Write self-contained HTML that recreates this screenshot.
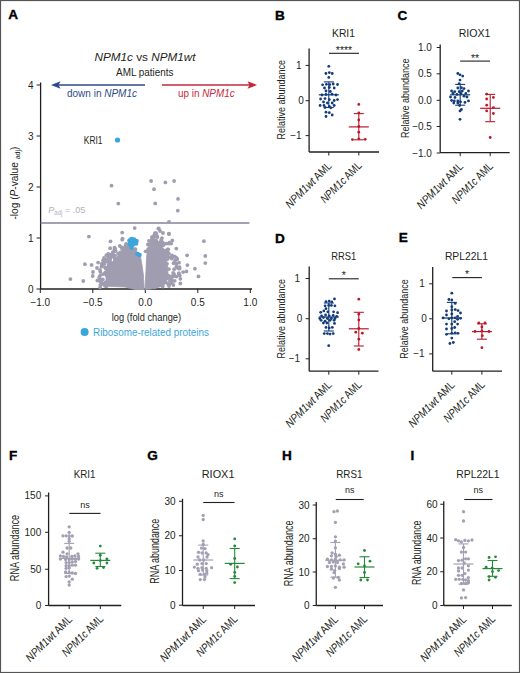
<!DOCTYPE html>
<html><head><meta charset="utf-8"><style>
html,body{margin:0;padding:0;background:#fff;}
svg{display:block;font-family:"Liberation Sans", sans-serif;}
</style></head><body>
<svg width="520" height="673" viewBox="0 0 520 673">
<rect width="520" height="673" fill="#fff"/>
<rect x="0.5" y="0.5" width="519" height="672" fill="none" stroke="#555" stroke-width="1.2"/>
<text x="8.200000000000001" y="18.8" font-size="13.6" text-anchor="start" font-weight="bold" font-style="normal" fill="#000" stroke="#000" stroke-width="0.35">A</text>
<text x="274.9" y="19.5" font-size="13.6" text-anchor="start" font-weight="bold" font-style="normal" fill="#000" stroke="#000" stroke-width="0.35">B</text>
<text x="397.4" y="19.5" font-size="13.6" text-anchor="start" font-weight="bold" font-style="normal" fill="#000" stroke="#000" stroke-width="0.35">C</text>
<text x="274.9" y="242.5" font-size="13.6" text-anchor="start" font-weight="bold" font-style="normal" fill="#000" stroke="#000" stroke-width="0.35">D</text>
<text x="398.7" y="242" font-size="13.6" text-anchor="start" font-weight="bold" font-style="normal" fill="#000" stroke="#000" stroke-width="0.35">E</text>
<text x="8.9" y="460.1" font-size="13.6" text-anchor="start" font-weight="bold" font-style="normal" fill="#000" stroke="#000" stroke-width="0.35">F</text>
<text x="147.20000000000002" y="460.1" font-size="13.6" text-anchor="start" font-weight="bold" font-style="normal" fill="#000" stroke="#000" stroke-width="0.35">G</text>
<text x="282.09999999999997" y="460.1" font-size="13.6" text-anchor="start" font-weight="bold" font-style="normal" fill="#000" stroke="#000" stroke-width="0.35">H</text>
<text x="410.4" y="460.1" font-size="13.6" text-anchor="start" font-weight="bold" font-style="normal" fill="#000" stroke="#000" stroke-width="0.35">I</text>
<line x1="40.6" y1="82.5" x2="40.6" y2="289" stroke="#231f20" stroke-width="1.3"/>
<line x1="36.6" y1="289.0" x2="40.6" y2="289.0" stroke="#231f20" stroke-width="1"/>
<text x="33.5" y="292.5" font-size="10" text-anchor="end" font-weight="normal" font-style="normal" fill="#231f20" >0</text>
<line x1="36.6" y1="238.0" x2="40.6" y2="238.0" stroke="#231f20" stroke-width="1"/>
<text x="33.5" y="241.5" font-size="10" text-anchor="end" font-weight="normal" font-style="normal" fill="#231f20" >1</text>
<line x1="36.6" y1="187.0" x2="40.6" y2="187.0" stroke="#231f20" stroke-width="1"/>
<text x="33.5" y="190.5" font-size="10" text-anchor="end" font-weight="normal" font-style="normal" fill="#231f20" >2</text>
<line x1="36.6" y1="136.0" x2="40.6" y2="136.0" stroke="#231f20" stroke-width="1"/>
<text x="33.5" y="139.5" font-size="10" text-anchor="end" font-weight="normal" font-style="normal" fill="#231f20" >3</text>
<line x1="36.6" y1="85.0" x2="40.6" y2="85.0" stroke="#231f20" stroke-width="1"/>
<text x="33.5" y="88.5" font-size="10" text-anchor="end" font-weight="normal" font-style="normal" fill="#231f20" >4</text>
<line x1="40.6" y1="289" x2="252" y2="289" stroke="#231f20" stroke-width="1.3"/>
<line x1="40.30000000000001" y1="289" x2="40.30000000000001" y2="293" stroke="#231f20" stroke-width="1"/>
<text x="40.30000000000001" y="305.5" font-size="10" text-anchor="middle" font-weight="normal" font-style="normal" fill="#231f20" >−1.0</text>
<line x1="92.80000000000001" y1="289" x2="92.80000000000001" y2="293" stroke="#231f20" stroke-width="1"/>
<text x="92.80000000000001" y="305.5" font-size="10" text-anchor="middle" font-weight="normal" font-style="normal" fill="#231f20" >−0.5</text>
<line x1="145.3" y1="289" x2="145.3" y2="293" stroke="#231f20" stroke-width="1"/>
<text x="145.3" y="305.5" font-size="10" text-anchor="middle" font-weight="normal" font-style="normal" fill="#231f20" >0.0</text>
<line x1="197.8" y1="289" x2="197.8" y2="293" stroke="#231f20" stroke-width="1"/>
<text x="197.8" y="305.5" font-size="10" text-anchor="middle" font-weight="normal" font-style="normal" fill="#231f20" >0.5</text>
<line x1="250.3" y1="289" x2="250.3" y2="293" stroke="#231f20" stroke-width="1"/>
<text x="250.3" y="305.5" font-size="10" text-anchor="middle" font-weight="normal" font-style="normal" fill="#231f20" >1.0</text>
<text x="146.4" y="320.5" font-size="10.5" text-anchor="middle" font-weight="normal" font-style="normal" fill="#231f20" textLength="69.5" lengthAdjust="spacingAndGlyphs" >log (fold change)</text>
<circle cx="84.6" cy="332.0" r="4" fill="#3aa6dc"/>
<text x="93" y="336" font-size="10.5" text-anchor="start" font-weight="normal" font-style="normal" fill="#3aa6dc" textLength="116" lengthAdjust="spacingAndGlyphs" >Ribosome-related proteins</text>
<g transform="translate(17.9,183) rotate(-90)"><text x="0" y="0" font-size="10" text-anchor="middle" fill="#231f20" textLength="73" lengthAdjust="spacingAndGlyphs">-log (<tspan font-style="italic">P</tspan>-value <tspan font-size="7" dy="2">adj</tspan><tspan dy="-2">)</tspan></text></g>
<text x="145" y="60.7" font-size="11.3" text-anchor="middle" fill="#231f20" textLength="101" lengthAdjust="spacingAndGlyphs"><tspan font-style="italic">NPM1c</tspan> vs <tspan font-style="italic">NPM1wt</tspan></text>
<text x="144.8" y="76.2" font-size="10" text-anchor="middle" font-weight="normal" font-style="normal" fill="#231f20" textLength="57.5" lengthAdjust="spacingAndGlyphs" >AML patients</text>
<line x1="57" y1="85" x2="145" y2="85" stroke="#2d4b87" stroke-width="1.5"/>
<path d="M51,85 L60.5,81.2 L58.5,85 L60.5,88.8 Z" fill="#2d4b87"/>
<line x1="162" y1="85" x2="251" y2="85" stroke="#c4283a" stroke-width="1.5"/>
<path d="M257,85 L247.5,81.2 L249.5,85 L247.5,88.8 Z" fill="#c4283a"/>
<text x="67" y="97.2" font-size="10" fill="#2d4b87" textLength="70" lengthAdjust="spacingAndGlyphs">down in <tspan font-style="italic">NPM1c</tspan></text>
<text x="178" y="97.2" font-size="10" fill="#c4283a" textLength="56.6" lengthAdjust="spacingAndGlyphs">up in <tspan font-style="italic">NPM1c</tspan></text>
<line x1="40.6" y1="223" x2="249.5" y2="223" stroke="#85839a" stroke-width="1.4"/>
<text x="48.3" y="213.3" font-size="9.8" fill="#b3b2bd" textLength="37" lengthAdjust="spacingAndGlyphs"><tspan font-style="italic">P</tspan><tspan font-size="6.5" dy="2">adj</tspan><tspan dy="-2"> = .05</tspan></text>
<path d="M106.0,286.0 L106.0,279.0 L107.0,272.0 L109.0,266.0 L112.5,261.5 L117.0,257.0 L121.0,252.0 L125.0,248.0 L128.0,245.0 L133.0,248.0 L137.0,252.0 L140.0,254.0 L142.0,265.0 L143.4,275.0 L144.2,289.5 L135.0,289.5 L125.0,287.0 L112.0,286.5 Z" fill="#a09db0" stroke="#a09db0" stroke-width="0.8" stroke-linejoin="round"/>
<path d="M145.0,289.5 L145.4,281.0 L146.0,270.0 L146.5,258.0 L147.5,249.0 L149.0,243.0 L152.0,240.5 L156.0,241.5 L160.0,245.0 L163.0,250.0 L166.0,257.0 L167.5,265.0 L168.0,273.0 L167.0,280.0 L164.0,285.5 L155.0,288.5 Z" fill="#a09db0" stroke="#a09db0" stroke-width="0.8" stroke-linejoin="round"/>
<circle cx="120.5" cy="252.5" r="1.9" fill="#a09db0"/>
<circle cx="126.2" cy="244.0" r="1.9" fill="#a09db0"/>
<circle cx="108.7" cy="266.0" r="1.9" fill="#a09db0"/>
<circle cx="108.0" cy="275.7" r="1.9" fill="#a09db0"/>
<circle cx="110.8" cy="262.9" r="1.9" fill="#a09db0"/>
<circle cx="135.0" cy="249.5" r="1.9" fill="#a09db0"/>
<circle cx="107.9" cy="270.7" r="1.9" fill="#a09db0"/>
<circle cx="114.8" cy="258.5" r="1.9" fill="#a09db0"/>
<circle cx="134.5" cy="251.6" r="1.9" fill="#a09db0"/>
<circle cx="105.5" cy="274.1" r="1.9" fill="#a09db0"/>
<circle cx="129.5" cy="247.7" r="1.9" fill="#a09db0"/>
<circle cx="126.1" cy="247.7" r="1.9" fill="#a09db0"/>
<circle cx="108.9" cy="267.0" r="1.9" fill="#a09db0"/>
<circle cx="119.1" cy="256.6" r="1.9" fill="#a09db0"/>
<circle cx="107.1" cy="276.4" r="1.9" fill="#a09db0"/>
<circle cx="126.7" cy="246.6" r="1.9" fill="#a09db0"/>
<circle cx="131.6" cy="246.0" r="1.9" fill="#a09db0"/>
<circle cx="118.2" cy="253.4" r="1.9" fill="#a09db0"/>
<circle cx="105.2" cy="272.7" r="1.9" fill="#a09db0"/>
<circle cx="105.4" cy="282.3" r="1.9" fill="#a09db0"/>
<circle cx="111.3" cy="281.1" r="1.9" fill="#a09db0"/>
<circle cx="127.3" cy="263.4" r="1.9" fill="#a09db0"/>
<circle cx="135.4" cy="249.2" r="1.9" fill="#a09db0"/>
<circle cx="106.3" cy="269.2" r="1.9" fill="#a09db0"/>
<circle cx="123.8" cy="248.2" r="1.9" fill="#a09db0"/>
<circle cx="155.9" cy="240.6" r="1.9" fill="#a09db0"/>
<circle cx="167.0" cy="263.8" r="1.9" fill="#a09db0"/>
<circle cx="157.0" cy="242.8" r="1.9" fill="#a09db0"/>
<circle cx="156.4" cy="240.9" r="1.9" fill="#a09db0"/>
<circle cx="159.0" cy="245.6" r="1.9" fill="#a09db0"/>
<circle cx="162.5" cy="271.8" r="1.9" fill="#a09db0"/>
<circle cx="154.1" cy="258.4" r="1.9" fill="#a09db0"/>
<circle cx="167.2" cy="276.1" r="1.9" fill="#a09db0"/>
<circle cx="166.8" cy="257.8" r="1.9" fill="#a09db0"/>
<circle cx="152.0" cy="240.3" r="1.9" fill="#a09db0"/>
<circle cx="165.0" cy="276.0" r="1.9" fill="#a09db0"/>
<circle cx="147.9" cy="249.7" r="1.9" fill="#a09db0"/>
<circle cx="161.8" cy="249.0" r="1.9" fill="#a09db0"/>
<circle cx="152.9" cy="240.8" r="1.9" fill="#a09db0"/>
<circle cx="168.9" cy="269.1" r="1.9" fill="#a09db0"/>
<circle cx="160.9" cy="246.0" r="1.9" fill="#a09db0"/>
<circle cx="159.1" cy="244.7" r="1.9" fill="#a09db0"/>
<circle cx="167.1" cy="278.4" r="1.9" fill="#a09db0"/>
<circle cx="151.0" cy="242.4" r="1.9" fill="#a09db0"/>
<circle cx="153.7" cy="242.3" r="1.9" fill="#a09db0"/>
<circle cx="168.0" cy="277.5" r="1.9" fill="#a09db0"/>
<circle cx="160.0" cy="242.5" r="1.9" fill="#a09db0"/>
<circle cx="154.9" cy="242.3" r="1.9" fill="#a09db0"/>
<circle cx="147.9" cy="244.4" r="1.9" fill="#a09db0"/>
<circle cx="145.7" cy="251.3" r="1.9" fill="#a09db0"/>
<circle cx="165.3" cy="257.3" r="1.9" fill="#a09db0"/>
<circle cx="157.2" cy="244.3" r="1.9" fill="#a09db0"/>
<circle cx="148.9" cy="254.2" r="1.9" fill="#a09db0"/>
<circle cx="152.4" cy="241.7" r="1.9" fill="#a09db0"/>
<circle cx="158.8" cy="245.1" r="1.9" fill="#a09db0"/>
<circle cx="121.9" cy="247.3" r="1.9" fill="#a09db0"/>
<circle cx="102.8" cy="279.5" r="1.9" fill="#a09db0"/>
<circle cx="105.9" cy="267.7" r="1.9" fill="#a09db0"/>
<circle cx="106.6" cy="259.5" r="1.9" fill="#a09db0"/>
<circle cx="102.3" cy="283.6" r="1.9" fill="#a09db0"/>
<circle cx="109.7" cy="261.4" r="1.9" fill="#a09db0"/>
<circle cx="103.7" cy="262.2" r="1.9" fill="#a09db0"/>
<circle cx="108.8" cy="264.4" r="1.9" fill="#a09db0"/>
<circle cx="101.5" cy="266.5" r="1.9" fill="#a09db0"/>
<circle cx="125.7" cy="245.7" r="1.9" fill="#a09db0"/>
<circle cx="100.4" cy="271.8" r="1.9" fill="#a09db0"/>
<circle cx="103.1" cy="274.1" r="1.9" fill="#a09db0"/>
<circle cx="119.8" cy="246.0" r="1.9" fill="#a09db0"/>
<circle cx="105.2" cy="285.7" r="1.9" fill="#a09db0"/>
<circle cx="111.1" cy="262.9" r="1.9" fill="#a09db0"/>
<circle cx="103.3" cy="260.1" r="1.9" fill="#a09db0"/>
<circle cx="115.0" cy="255.6" r="1.9" fill="#a09db0"/>
<circle cx="100.1" cy="287.3" r="1.9" fill="#a09db0"/>
<circle cx="99.3" cy="277.2" r="1.9" fill="#a09db0"/>
<circle cx="102.9" cy="284.0" r="1.9" fill="#a09db0"/>
<circle cx="100.4" cy="285.0" r="1.9" fill="#a09db0"/>
<circle cx="100.8" cy="281.0" r="1.9" fill="#a09db0"/>
<circle cx="100.2" cy="281.3" r="1.9" fill="#a09db0"/>
<circle cx="113.0" cy="255.6" r="1.9" fill="#a09db0"/>
<circle cx="115.4" cy="250.7" r="1.9" fill="#a09db0"/>
<circle cx="108.3" cy="253.9" r="1.9" fill="#a09db0"/>
<circle cx="114.5" cy="247.7" r="1.9" fill="#a09db0"/>
<circle cx="104.3" cy="262.3" r="1.9" fill="#a09db0"/>
<circle cx="128.8" cy="244.2" r="1.9" fill="#a09db0"/>
<circle cx="111.4" cy="256.0" r="1.9" fill="#a09db0"/>
<circle cx="100.3" cy="275.3" r="1.9" fill="#a09db0"/>
<circle cx="100.8" cy="280.2" r="1.9" fill="#a09db0"/>
<circle cx="107.7" cy="261.5" r="1.9" fill="#a09db0"/>
<circle cx="103.2" cy="260.8" r="1.9" fill="#a09db0"/>
<circle cx="106.7" cy="286.1" r="1.9" fill="#a09db0"/>
<circle cx="106.1" cy="286.3" r="1.9" fill="#a09db0"/>
<circle cx="108.2" cy="256.5" r="1.9" fill="#a09db0"/>
<circle cx="104.6" cy="263.7" r="1.9" fill="#a09db0"/>
<circle cx="110.9" cy="255.0" r="1.9" fill="#a09db0"/>
<circle cx="99.4" cy="279.9" r="1.9" fill="#a09db0"/>
<circle cx="102.6" cy="264.7" r="1.9" fill="#a09db0"/>
<circle cx="101.5" cy="280.0" r="1.9" fill="#a09db0"/>
<circle cx="122.1" cy="249.1" r="1.9" fill="#a09db0"/>
<circle cx="114.3" cy="257.7" r="1.9" fill="#a09db0"/>
<circle cx="112.8" cy="252.2" r="1.9" fill="#a09db0"/>
<circle cx="104.9" cy="285.3" r="1.9" fill="#a09db0"/>
<circle cx="105.0" cy="267.5" r="1.9" fill="#a09db0"/>
<circle cx="102.7" cy="264.7" r="1.9" fill="#a09db0"/>
<circle cx="129.4" cy="245.5" r="1.9" fill="#a09db0"/>
<circle cx="105.6" cy="283.0" r="1.9" fill="#a09db0"/>
<circle cx="112.9" cy="253.8" r="1.9" fill="#a09db0"/>
<circle cx="125.7" cy="244.9" r="1.9" fill="#a09db0"/>
<circle cx="110.3" cy="258.3" r="1.9" fill="#a09db0"/>
<circle cx="109.9" cy="260.0" r="1.9" fill="#a09db0"/>
<circle cx="101.4" cy="279.9" r="1.9" fill="#a09db0"/>
<circle cx="114.9" cy="248.3" r="1.9" fill="#a09db0"/>
<circle cx="128.6" cy="245.2" r="1.9" fill="#a09db0"/>
<circle cx="113.6" cy="255.8" r="1.9" fill="#a09db0"/>
<circle cx="104.9" cy="283.4" r="1.9" fill="#a09db0"/>
<circle cx="114.4" cy="249.8" r="1.9" fill="#a09db0"/>
<circle cx="161.2" cy="240.0" r="1.9" fill="#a09db0"/>
<circle cx="151.9" cy="237.2" r="1.9" fill="#a09db0"/>
<circle cx="157.3" cy="237.2" r="1.9" fill="#a09db0"/>
<circle cx="172.0" cy="255.5" r="1.9" fill="#a09db0"/>
<circle cx="177.2" cy="259.0" r="1.9" fill="#a09db0"/>
<circle cx="174.7" cy="280.8" r="1.9" fill="#a09db0"/>
<circle cx="148.9" cy="240.8" r="1.9" fill="#a09db0"/>
<circle cx="178.9" cy="273.1" r="1.9" fill="#a09db0"/>
<circle cx="168.3" cy="275.6" r="1.9" fill="#a09db0"/>
<circle cx="168.2" cy="249.3" r="1.9" fill="#a09db0"/>
<circle cx="179.5" cy="268.7" r="1.9" fill="#a09db0"/>
<circle cx="176.8" cy="259.1" r="1.9" fill="#a09db0"/>
<circle cx="156.1" cy="233.2" r="1.9" fill="#a09db0"/>
<circle cx="169.0" cy="284.7" r="1.9" fill="#a09db0"/>
<circle cx="169.6" cy="243.3" r="1.9" fill="#a09db0"/>
<circle cx="173.7" cy="274.1" r="1.9" fill="#a09db0"/>
<circle cx="163.2" cy="243.7" r="1.9" fill="#a09db0"/>
<circle cx="162.8" cy="242.7" r="1.9" fill="#a09db0"/>
<circle cx="169.0" cy="286.1" r="1.9" fill="#a09db0"/>
<circle cx="168.9" cy="253.6" r="1.9" fill="#a09db0"/>
<circle cx="174.6" cy="256.6" r="1.9" fill="#a09db0"/>
<circle cx="171.9" cy="283.2" r="1.9" fill="#a09db0"/>
<circle cx="179.5" cy="267.2" r="1.9" fill="#a09db0"/>
<circle cx="178.0" cy="268.1" r="1.9" fill="#a09db0"/>
<circle cx="173.9" cy="274.1" r="1.9" fill="#a09db0"/>
<circle cx="174.6" cy="276.1" r="1.9" fill="#a09db0"/>
<circle cx="166.9" cy="250.7" r="1.9" fill="#a09db0"/>
<circle cx="153.9" cy="235.7" r="1.9" fill="#a09db0"/>
<circle cx="154.5" cy="236.8" r="1.9" fill="#a09db0"/>
<circle cx="170.6" cy="257.5" r="1.9" fill="#a09db0"/>
<circle cx="171.9" cy="280.3" r="1.9" fill="#a09db0"/>
<circle cx="165.4" cy="253.3" r="1.9" fill="#a09db0"/>
<circle cx="165.8" cy="250.6" r="1.9" fill="#a09db0"/>
<circle cx="163.3" cy="245.2" r="1.9" fill="#a09db0"/>
<circle cx="174.1" cy="269.2" r="1.9" fill="#a09db0"/>
<circle cx="176.2" cy="257.6" r="1.9" fill="#a09db0"/>
<circle cx="168.5" cy="243.6" r="1.9" fill="#a09db0"/>
<circle cx="169.4" cy="242.6" r="1.9" fill="#a09db0"/>
<circle cx="173.6" cy="263.2" r="1.9" fill="#a09db0"/>
<circle cx="158.1" cy="243.2" r="1.9" fill="#a09db0"/>
<circle cx="171.2" cy="243.6" r="1.9" fill="#a09db0"/>
<circle cx="161.6" cy="241.3" r="1.9" fill="#a09db0"/>
<circle cx="168.1" cy="283.9" r="1.9" fill="#a09db0"/>
<circle cx="152.1" cy="239.2" r="1.9" fill="#a09db0"/>
<circle cx="177.6" cy="267.4" r="1.9" fill="#a09db0"/>
<circle cx="171.1" cy="283.1" r="1.9" fill="#a09db0"/>
<circle cx="167.6" cy="249.5" r="1.9" fill="#a09db0"/>
<circle cx="162.6" cy="245.4" r="1.9" fill="#a09db0"/>
<circle cx="172.5" cy="276.5" r="1.9" fill="#a09db0"/>
<circle cx="161.5" cy="242.2" r="1.9" fill="#a09db0"/>
<circle cx="162.0" cy="238.1" r="1.9" fill="#a09db0"/>
<circle cx="171.4" cy="276.3" r="1.9" fill="#a09db0"/>
<circle cx="171.4" cy="278.5" r="1.9" fill="#a09db0"/>
<circle cx="162.7" cy="286.5" r="1.9" fill="#a09db0"/>
<circle cx="173.4" cy="285.0" r="1.9" fill="#a09db0"/>
<circle cx="163.2" cy="250.2" r="1.9" fill="#a09db0"/>
<circle cx="169.5" cy="283.0" r="1.9" fill="#a09db0"/>
<circle cx="167.9" cy="252.5" r="1.9" fill="#a09db0"/>
<circle cx="176.4" cy="263.6" r="1.9" fill="#a09db0"/>
<circle cx="165.9" cy="282.3" r="1.9" fill="#a09db0"/>
<circle cx="167.7" cy="254.5" r="1.9" fill="#a09db0"/>
<circle cx="160.9" cy="242.1" r="1.9" fill="#a09db0"/>
<circle cx="167.2" cy="256.6" r="1.9" fill="#a09db0"/>
<circle cx="166.2" cy="243.6" r="1.9" fill="#a09db0"/>
<circle cx="167.5" cy="259.1" r="1.9" fill="#a09db0"/>
<circle cx="153.8" cy="240.5" r="1.9" fill="#a09db0"/>
<circle cx="176.4" cy="276.6" r="1.9" fill="#a09db0"/>
<circle cx="165.2" cy="252.0" r="1.9" fill="#a09db0"/>
<circle cx="168.2" cy="257.3" r="1.9" fill="#a09db0"/>
<circle cx="178.7" cy="273.8" r="1.9" fill="#a09db0"/>
<circle cx="173.2" cy="272.8" r="1.9" fill="#a09db0"/>
<circle cx="171.8" cy="258.5" r="1.9" fill="#a09db0"/>
<circle cx="171.7" cy="257.8" r="1.9" fill="#a09db0"/>
<circle cx="153.1" cy="238.0" r="1.9" fill="#a09db0"/>
<circle cx="170.0" cy="280.2" r="1.9" fill="#a09db0"/>
<circle cx="111.5" cy="185.7" r="1.9" fill="#a09db0"/>
<circle cx="118.3" cy="203.6" r="1.9" fill="#a09db0"/>
<circle cx="88.9" cy="236.6" r="1.9" fill="#a09db0"/>
<circle cx="122.2" cy="232.6" r="1.9" fill="#a09db0"/>
<circle cx="122.6" cy="238.6" r="1.9" fill="#a09db0"/>
<circle cx="151.1" cy="181.0" r="1.9" fill="#a09db0"/>
<circle cx="165.4" cy="182.4" r="1.9" fill="#a09db0"/>
<circle cx="174.1" cy="181.0" r="1.9" fill="#a09db0"/>
<circle cx="154.0" cy="189.2" r="1.9" fill="#a09db0"/>
<circle cx="178.0" cy="198.9" r="1.9" fill="#a09db0"/>
<circle cx="155.2" cy="203.4" r="1.9" fill="#a09db0"/>
<circle cx="177.8" cy="210.7" r="1.9" fill="#a09db0"/>
<circle cx="169.0" cy="221.8" r="1.9" fill="#a09db0"/>
<circle cx="134.7" cy="228.1" r="1.9" fill="#a09db0"/>
<circle cx="158.3" cy="228.7" r="1.9" fill="#a09db0"/>
<circle cx="169.0" cy="234.0" r="1.9" fill="#a09db0"/>
<circle cx="154.9" cy="233.2" r="1.9" fill="#a09db0"/>
<circle cx="70.4" cy="279.1" r="1.9" fill="#a09db0"/>
<circle cx="83.3" cy="281.0" r="1.9" fill="#a09db0"/>
<circle cx="84.9" cy="264.2" r="1.9" fill="#a09db0"/>
<circle cx="91.6" cy="264.9" r="1.9" fill="#a09db0"/>
<circle cx="93.0" cy="272.0" r="1.9" fill="#a09db0"/>
<circle cx="92.7" cy="276.0" r="1.9" fill="#a09db0"/>
<circle cx="97.4" cy="280.5" r="1.9" fill="#a09db0"/>
<circle cx="106.4" cy="284.5" r="1.9" fill="#a09db0"/>
<circle cx="98.1" cy="262.6" r="1.9" fill="#a09db0"/>
<circle cx="101.7" cy="263.9" r="1.9" fill="#a09db0"/>
<circle cx="106.4" cy="255.2" r="1.9" fill="#a09db0"/>
<circle cx="110.5" cy="241.3" r="1.9" fill="#a09db0"/>
<circle cx="110.2" cy="248.2" r="1.9" fill="#a09db0"/>
<circle cx="115.5" cy="250.9" r="1.9" fill="#a09db0"/>
<circle cx="122.2" cy="239.7" r="1.9" fill="#a09db0"/>
<circle cx="111.1" cy="255.2" r="1.9" fill="#a09db0"/>
<circle cx="158.8" cy="228.4" r="1.9" fill="#a09db0"/>
<circle cx="168.9" cy="233.7" r="1.9" fill="#a09db0"/>
<circle cx="172.3" cy="240.5" r="1.9" fill="#a09db0"/>
<circle cx="176.3" cy="248.6" r="1.9" fill="#a09db0"/>
<circle cx="175.0" cy="260.7" r="1.9" fill="#a09db0"/>
<circle cx="179.0" cy="262.7" r="1.9" fill="#a09db0"/>
<circle cx="176.3" cy="266.7" r="1.9" fill="#a09db0"/>
<circle cx="187.1" cy="255.3" r="1.9" fill="#a09db0"/>
<circle cx="203.9" cy="241.2" r="1.9" fill="#a09db0"/>
<circle cx="205.3" cy="256.0" r="1.9" fill="#a09db0"/>
<circle cx="205.3" cy="263.1" r="1.9" fill="#a09db0"/>
<circle cx="187.4" cy="265.1" r="1.9" fill="#a09db0"/>
<circle cx="194.9" cy="268.7" r="1.9" fill="#a09db0"/>
<circle cx="198.5" cy="276.4" r="1.9" fill="#a09db0"/>
<circle cx="180.4" cy="283.5" r="1.9" fill="#a09db0"/>
<circle cx="180.4" cy="278.8" r="1.9" fill="#a09db0"/>
<circle cx="186.4" cy="271.4" r="1.9" fill="#a09db0"/>
<circle cx="183.1" cy="272.1" r="1.9" fill="#a09db0"/>
<circle cx="179.7" cy="275.5" r="1.9" fill="#a09db0"/>
<circle cx="100.0" cy="270.0" r="1.9" fill="#a09db0"/>
<circle cx="97.0" cy="268.0" r="1.9" fill="#a09db0"/>
<circle cx="104.0" cy="258.0" r="1.9" fill="#a09db0"/>
<circle cx="160.0" cy="231.0" r="1.9" fill="#a09db0"/>
<circle cx="163.0" cy="233.0" r="1.9" fill="#a09db0"/>
<circle cx="157.0" cy="236.0" r="1.9" fill="#a09db0"/>
<circle cx="129.5" cy="240.5" r="2.3" fill="#3aa6dc"/>
<circle cx="131.5" cy="239.0" r="2.3" fill="#3aa6dc"/>
<circle cx="134.0" cy="239.5" r="2.3" fill="#3aa6dc"/>
<circle cx="136.5" cy="241.0" r="2.3" fill="#3aa6dc"/>
<circle cx="136.0" cy="243.5" r="2.3" fill="#3aa6dc"/>
<circle cx="133.0" cy="244.5" r="2.3" fill="#3aa6dc"/>
<circle cx="130.0" cy="244.0" r="2.3" fill="#3aa6dc"/>
<circle cx="131.5" cy="247.5" r="2.3" fill="#3aa6dc"/>
<circle cx="137.5" cy="254.0" r="2.3" fill="#3aa6dc"/>
<circle cx="139.5" cy="255.0" r="2.3" fill="#3aa6dc"/>
<circle cx="133.0" cy="242.0" r="2.3" fill="#3aa6dc"/>
<circle cx="131.0" cy="242.0" r="2.3" fill="#3aa6dc"/>
<circle cx="134.5" cy="241.5" r="2.3" fill="#3aa6dc"/>
<circle cx="117.5" cy="140.0" r="2.6" fill="#3aa6dc"/>
<text x="83.8" y="144" font-size="10" text-anchor="start" font-weight="normal" font-style="normal" fill="#231f20" textLength="18.7" lengthAdjust="spacingAndGlyphs" >KRI1</text>
<line x1="309.1" y1="48.5" x2="309.1" y2="152" stroke="#231f20" stroke-width="1.3"/>
<line x1="309.1" y1="152" x2="379" y2="152" stroke="#231f20" stroke-width="1.3"/>
<line x1="305.6" y1="65.4" x2="309.1" y2="65.4" stroke="#231f20" stroke-width="1"/>
<line x1="305.6" y1="100.7" x2="309.1" y2="100.7" stroke="#231f20" stroke-width="1"/>
<line x1="305.6" y1="135.6" x2="309.1" y2="135.6" stroke="#231f20" stroke-width="1"/>
<line x1="328.8" y1="152" x2="328.8" y2="155.5" stroke="#231f20" stroke-width="1"/>
<line x1="358.8" y1="152" x2="358.8" y2="155.5" stroke="#231f20" stroke-width="1"/>
<text x="301.6" y="68.9" font-size="10" text-anchor="end" font-weight="normal" font-style="normal" fill="#231f20" >1</text>
<text x="303.8" y="104.2" font-size="10" text-anchor="end" font-weight="normal" font-style="normal" fill="#231f20" >0</text>
<text x="301.6" y="139.1" font-size="10" text-anchor="end" font-weight="normal" font-style="normal" fill="#231f20" >−1</text>
<text x="343.5" y="37.2" font-size="11.5" text-anchor="middle" font-weight="normal" font-style="normal" fill="#231f20" textLength="23" lengthAdjust="spacingAndGlyphs" >KRI1</text>
<g transform="translate(285.2,99.7) rotate(-90)"><text x="0" y="0" font-size="11" text-anchor="middle" fill="#231f20" textLength="79.4" lengthAdjust="spacingAndGlyphs">Relative abundance</text></g>
<line x1="329" y1="53.3" x2="359" y2="53.3" stroke="#231f20" stroke-width="1.1"/>
<text x="344.0" y="54.1" font-size="10.5" text-anchor="middle" font-weight="normal" font-style="normal" fill="#231f20" textLength="16.4" lengthAdjust="spacingAndGlyphs" >****</text>
<circle cx="328.8" cy="66.3" r="1.4" fill="#133c7a"/>
<circle cx="325.9" cy="73.5" r="1.4" fill="#133c7a"/>
<circle cx="329.3" cy="72.6" r="1.4" fill="#133c7a"/>
<circle cx="332.2" cy="73.5" r="1.4" fill="#133c7a"/>
<circle cx="328.8" cy="77.4" r="1.4" fill="#133c7a"/>
<circle cx="322.6" cy="84.8" r="1.4" fill="#133c7a"/>
<circle cx="326.4" cy="84.3" r="1.4" fill="#133c7a"/>
<circle cx="329.8" cy="84.6" r="1.4" fill="#133c7a"/>
<circle cx="333.2" cy="84.0" r="1.4" fill="#133c7a"/>
<circle cx="337.5" cy="84.5" r="1.4" fill="#133c7a"/>
<circle cx="324.5" cy="88.0" r="1.4" fill="#133c7a"/>
<circle cx="329.3" cy="87.5" r="1.4" fill="#133c7a"/>
<circle cx="334.2" cy="88.0" r="1.4" fill="#133c7a"/>
<circle cx="326.0" cy="91.0" r="1.4" fill="#133c7a"/>
<circle cx="330.3" cy="91.5" r="1.4" fill="#133c7a"/>
<circle cx="320.6" cy="99.0" r="1.4" fill="#133c7a"/>
<circle cx="325.0" cy="98.6" r="1.4" fill="#133c7a"/>
<circle cx="329.3" cy="99.6" r="1.4" fill="#133c7a"/>
<circle cx="334.2" cy="100.5" r="1.4" fill="#133c7a"/>
<circle cx="337.5" cy="99.6" r="1.4" fill="#133c7a"/>
<circle cx="323.5" cy="102.0" r="1.4" fill="#133c7a"/>
<circle cx="327.4" cy="103.0" r="1.4" fill="#133c7a"/>
<circle cx="332.2" cy="103.0" r="1.4" fill="#133c7a"/>
<circle cx="320.1" cy="105.5" r="1.4" fill="#133c7a"/>
<circle cx="324.0" cy="105.5" r="1.4" fill="#133c7a"/>
<circle cx="329.3" cy="106.4" r="1.4" fill="#133c7a"/>
<circle cx="334.2" cy="105.5" r="1.4" fill="#133c7a"/>
<circle cx="325.0" cy="107.5" r="1.4" fill="#133c7a"/>
<circle cx="330.8" cy="107.8" r="1.4" fill="#133c7a"/>
<circle cx="326.0" cy="112.2" r="1.4" fill="#133c7a"/>
<circle cx="329.3" cy="112.7" r="1.4" fill="#133c7a"/>
<circle cx="332.2" cy="115.0" r="1.4" fill="#133c7a"/>
<circle cx="326.0" cy="116.5" r="1.4" fill="#133c7a"/>
<circle cx="322.0" cy="95.0" r="1.4" fill="#133c7a"/>
<circle cx="336.0" cy="95.0" r="1.4" fill="#133c7a"/>
<circle cx="326.0" cy="94.5" r="1.4" fill="#133c7a"/>
<circle cx="332.0" cy="94.2" r="1.4" fill="#133c7a"/>
<circle cx="358.8" cy="104.4" r="1.4" fill="#ba1a2c"/>
<circle cx="358.8" cy="113.0" r="1.4" fill="#ba1a2c"/>
<circle cx="358.8" cy="120.0" r="1.4" fill="#ba1a2c"/>
<circle cx="358.8" cy="126.5" r="1.4" fill="#ba1a2c"/>
<circle cx="358.8" cy="132.2" r="1.4" fill="#ba1a2c"/>
<circle cx="352.4" cy="139.6" r="1.4" fill="#ba1a2c"/>
<circle cx="358.8" cy="138.8" r="1.4" fill="#ba1a2c"/>
<circle cx="365.2" cy="139.3" r="1.4" fill="#ba1a2c"/>
<line x1="318.8" y1="94.8" x2="338.8" y2="94.8" stroke="#133c7a" stroke-width="1.2"/>
<line x1="328.8" y1="81.9" x2="328.8" y2="107.5" stroke="#133c7a" stroke-width="1.1"/>
<line x1="323.8" y1="81.9" x2="333.8" y2="81.9" stroke="#133c7a" stroke-width="1.1"/>
<line x1="323.8" y1="107.5" x2="333.8" y2="107.5" stroke="#133c7a" stroke-width="1.1"/>
<line x1="348.8" y1="126.9" x2="368.8" y2="126.9" stroke="#ba1a2c" stroke-width="1.2"/>
<line x1="358.8" y1="113.6" x2="358.8" y2="139.8" stroke="#ba1a2c" stroke-width="1.1"/>
<line x1="353.8" y1="113.6" x2="363.8" y2="113.6" stroke="#ba1a2c" stroke-width="1.1"/>
<line x1="353.8" y1="139.8" x2="363.8" y2="139.8" stroke="#ba1a2c" stroke-width="1.1"/>
<g transform="translate(332.40000000000003,166.5) rotate(-45)"><text x="0" y="0" font-size="11.5" text-anchor="end" fill="#231f20" textLength="60" lengthAdjust="spacingAndGlyphs"><tspan font-style="italic">NPM1wt</tspan> AML</text></g>
<g transform="translate(362.40000000000003,166.3) rotate(-45)"><text x="0" y="0" font-size="11.5" text-anchor="end" fill="#231f20" textLength="53" lengthAdjust="spacingAndGlyphs"><tspan font-style="italic">NPM1c</tspan> AML</text></g>
<line x1="440.2" y1="44.4" x2="440.2" y2="152.7" stroke="#231f20" stroke-width="1.3"/>
<line x1="440.2" y1="152.7" x2="509.7" y2="152.7" stroke="#231f20" stroke-width="1.3"/>
<line x1="436.7" y1="47.5" x2="440.2" y2="47.5" stroke="#231f20" stroke-width="1"/>
<line x1="436.7" y1="73.8" x2="440.2" y2="73.8" stroke="#231f20" stroke-width="1"/>
<line x1="436.7" y1="100.3" x2="440.2" y2="100.3" stroke="#231f20" stroke-width="1"/>
<line x1="436.7" y1="126.5" x2="440.2" y2="126.5" stroke="#231f20" stroke-width="1"/>
<line x1="436.7" y1="153" x2="440.2" y2="153" stroke="#231f20" stroke-width="1"/>
<line x1="460.2" y1="152.7" x2="460.2" y2="156.2" stroke="#231f20" stroke-width="1"/>
<line x1="490.2" y1="152.7" x2="490.2" y2="156.2" stroke="#231f20" stroke-width="1"/>
<text x="431.9" y="51.0" font-size="10" text-anchor="end" font-weight="normal" font-style="normal" fill="#231f20" >1.0</text>
<text x="431.9" y="77.3" font-size="10" text-anchor="end" font-weight="normal" font-style="normal" fill="#231f20" >0.5</text>
<text x="431.9" y="103.8" font-size="10" text-anchor="end" font-weight="normal" font-style="normal" fill="#231f20" >0.0</text>
<text x="431.9" y="130.0" font-size="10" text-anchor="end" font-weight="normal" font-style="normal" fill="#231f20" >−0.5</text>
<text x="431.9" y="156.5" font-size="10" text-anchor="end" font-weight="normal" font-style="normal" fill="#231f20" >−1.0</text>
<text x="474.6" y="37.2" font-size="11.5" text-anchor="middle" font-weight="normal" font-style="normal" fill="#231f20" textLength="31.75" lengthAdjust="spacingAndGlyphs" >RIOX1</text>
<g transform="translate(409.3,98.2) rotate(-90)"><text x="0" y="0" font-size="11" text-anchor="middle" fill="#231f20" textLength="79.5" lengthAdjust="spacingAndGlyphs">Relative abundance</text></g>
<line x1="460.2" y1="61.1" x2="490" y2="61.1" stroke="#231f20" stroke-width="1.1"/>
<text x="475.1" y="62.1" font-size="10.5" text-anchor="middle" font-weight="normal" font-style="normal" fill="#231f20" textLength="8.2" lengthAdjust="spacingAndGlyphs" >**</text>
<circle cx="457.8" cy="73.5" r="1.4" fill="#133c7a"/>
<circle cx="460.0" cy="74.8" r="1.4" fill="#133c7a"/>
<circle cx="462.7" cy="76.1" r="1.4" fill="#133c7a"/>
<circle cx="460.0" cy="80.1" r="1.4" fill="#133c7a"/>
<circle cx="459.2" cy="83.7" r="1.4" fill="#133c7a"/>
<circle cx="457.8" cy="88.0" r="1.4" fill="#133c7a"/>
<circle cx="461.4" cy="87.7" r="1.4" fill="#133c7a"/>
<circle cx="464.0" cy="88.6" r="1.4" fill="#133c7a"/>
<circle cx="451.6" cy="91.0" r="1.4" fill="#133c7a"/>
<circle cx="454.7" cy="91.7" r="1.4" fill="#133c7a"/>
<circle cx="459.2" cy="91.7" r="1.4" fill="#133c7a"/>
<circle cx="462.3" cy="91.0" r="1.4" fill="#133c7a"/>
<circle cx="468.5" cy="91.0" r="1.4" fill="#133c7a"/>
<circle cx="453.0" cy="93.5" r="1.4" fill="#133c7a"/>
<circle cx="457.0" cy="94.4" r="1.4" fill="#133c7a"/>
<circle cx="461.0" cy="93.5" r="1.4" fill="#133c7a"/>
<circle cx="465.8" cy="93.5" r="1.4" fill="#133c7a"/>
<circle cx="464.0" cy="96.2" r="1.4" fill="#133c7a"/>
<circle cx="451.6" cy="100.5" r="1.4" fill="#133c7a"/>
<circle cx="454.3" cy="100.9" r="1.4" fill="#133c7a"/>
<circle cx="457.8" cy="100.9" r="1.4" fill="#133c7a"/>
<circle cx="460.5" cy="101.8" r="1.4" fill="#133c7a"/>
<circle cx="468.5" cy="100.9" r="1.4" fill="#133c7a"/>
<circle cx="453.8" cy="103.0" r="1.4" fill="#133c7a"/>
<circle cx="457.8" cy="103.0" r="1.4" fill="#133c7a"/>
<circle cx="465.0" cy="102.4" r="1.4" fill="#133c7a"/>
<circle cx="459.6" cy="105.5" r="1.4" fill="#133c7a"/>
<circle cx="461.4" cy="109.5" r="1.4" fill="#133c7a"/>
<circle cx="460.0" cy="110.9" r="1.4" fill="#133c7a"/>
<circle cx="460.0" cy="119.3" r="1.4" fill="#133c7a"/>
<circle cx="450.5" cy="97.0" r="1.4" fill="#133c7a"/>
<circle cx="467.0" cy="97.0" r="1.4" fill="#133c7a"/>
<circle cx="455.0" cy="97.5" r="1.4" fill="#133c7a"/>
<circle cx="486.7" cy="94.1" r="1.4" fill="#ba1a2c"/>
<circle cx="493.4" cy="97.4" r="1.4" fill="#ba1a2c"/>
<circle cx="486.7" cy="99.0" r="1.4" fill="#ba1a2c"/>
<circle cx="486.7" cy="105.2" r="1.4" fill="#ba1a2c"/>
<circle cx="493.4" cy="107.6" r="1.4" fill="#ba1a2c"/>
<circle cx="486.7" cy="110.9" r="1.4" fill="#ba1a2c"/>
<circle cx="493.4" cy="113.5" r="1.4" fill="#ba1a2c"/>
<circle cx="490.2" cy="137.5" r="1.4" fill="#ba1a2c"/>
<line x1="450.2" y1="94.8" x2="470.2" y2="94.8" stroke="#133c7a" stroke-width="1.2"/>
<line x1="460.2" y1="84.4" x2="460.2" y2="105.2" stroke="#133c7a" stroke-width="1.1"/>
<line x1="455.2" y1="84.4" x2="465.2" y2="84.4" stroke="#133c7a" stroke-width="1.1"/>
<line x1="455.2" y1="105.2" x2="465.2" y2="105.2" stroke="#133c7a" stroke-width="1.1"/>
<line x1="480.2" y1="108.3" x2="500.2" y2="108.3" stroke="#ba1a2c" stroke-width="1.2"/>
<line x1="490.2" y1="94.4" x2="490.2" y2="121.7" stroke="#ba1a2c" stroke-width="1.1"/>
<line x1="485.2" y1="94.4" x2="495.2" y2="94.4" stroke="#ba1a2c" stroke-width="1.1"/>
<line x1="485.2" y1="121.7" x2="495.2" y2="121.7" stroke="#ba1a2c" stroke-width="1.1"/>
<g transform="translate(463.8,167.2) rotate(-45)"><text x="0" y="0" font-size="11.5" text-anchor="end" fill="#231f20" textLength="60" lengthAdjust="spacingAndGlyphs"><tspan font-style="italic">NPM1wt</tspan> AML</text></g>
<g transform="translate(493.8,167.0) rotate(-45)"><text x="0" y="0" font-size="11.5" text-anchor="end" fill="#231f20" textLength="53" lengthAdjust="spacingAndGlyphs"><tspan font-style="italic">NPM1c</tspan> AML</text></g>
<line x1="309.2" y1="266.5" x2="309.2" y2="371.2" stroke="#231f20" stroke-width="1.3"/>
<line x1="309.2" y1="371.2" x2="378.5" y2="371.2" stroke="#231f20" stroke-width="1.3"/>
<line x1="305.7" y1="278.5" x2="309.2" y2="278.5" stroke="#231f20" stroke-width="1"/>
<line x1="305.7" y1="318.7" x2="309.2" y2="318.7" stroke="#231f20" stroke-width="1"/>
<line x1="305.7" y1="358.8" x2="309.2" y2="358.8" stroke="#231f20" stroke-width="1"/>
<line x1="328.8" y1="371.2" x2="328.8" y2="374.7" stroke="#231f20" stroke-width="1"/>
<line x1="358.8" y1="371.2" x2="358.8" y2="374.7" stroke="#231f20" stroke-width="1"/>
<text x="300.1" y="282.0" font-size="10" text-anchor="end" font-weight="normal" font-style="normal" fill="#231f20" >1</text>
<text x="302.3" y="322.2" font-size="10" text-anchor="end" font-weight="normal" font-style="normal" fill="#231f20" >0</text>
<text x="300.1" y="362.3" font-size="10" text-anchor="end" font-weight="normal" font-style="normal" fill="#231f20" >−1</text>
<text x="343.7" y="260.0" font-size="11.5" text-anchor="middle" font-weight="normal" font-style="normal" fill="#231f20" textLength="25" lengthAdjust="spacingAndGlyphs" >RRS1</text>
<g transform="translate(285,318.7) rotate(-90)"><text x="0" y="0" font-size="11" text-anchor="middle" fill="#231f20" textLength="79.4" lengthAdjust="spacingAndGlyphs">Relative abundance</text></g>
<line x1="328.8" y1="278.8" x2="358.8" y2="278.8" stroke="#231f20" stroke-width="1.1"/>
<text x="343.8" y="279.1" font-size="10.5" text-anchor="middle" font-weight="normal" font-style="normal" fill="#231f20" textLength="4.1" lengthAdjust="spacingAndGlyphs" >*</text>
<circle cx="334.5" cy="298.9" r="1.4" fill="#133c7a"/>
<circle cx="326.0" cy="301.6" r="1.4" fill="#133c7a"/>
<circle cx="329.2" cy="301.1" r="1.4" fill="#133c7a"/>
<circle cx="331.8" cy="302.0" r="1.4" fill="#133c7a"/>
<circle cx="325.1" cy="305.8" r="1.4" fill="#133c7a"/>
<circle cx="328.7" cy="305.4" r="1.4" fill="#133c7a"/>
<circle cx="331.4" cy="305.4" r="1.4" fill="#133c7a"/>
<circle cx="334.9" cy="305.8" r="1.4" fill="#133c7a"/>
<circle cx="326.0" cy="308.7" r="1.4" fill="#133c7a"/>
<circle cx="320.7" cy="312.3" r="1.4" fill="#133c7a"/>
<circle cx="323.8" cy="310.9" r="1.4" fill="#133c7a"/>
<circle cx="327.8" cy="311.8" r="1.4" fill="#133c7a"/>
<circle cx="333.6" cy="311.8" r="1.4" fill="#133c7a"/>
<circle cx="337.6" cy="312.7" r="1.4" fill="#133c7a"/>
<circle cx="321.6" cy="315.8" r="1.4" fill="#133c7a"/>
<circle cx="325.6" cy="315.0" r="1.4" fill="#133c7a"/>
<circle cx="329.2" cy="315.8" r="1.4" fill="#133c7a"/>
<circle cx="333.2" cy="315.4" r="1.4" fill="#133c7a"/>
<circle cx="336.7" cy="316.3" r="1.4" fill="#133c7a"/>
<circle cx="319.8" cy="318.5" r="1.4" fill="#133c7a"/>
<circle cx="323.4" cy="317.6" r="1.4" fill="#133c7a"/>
<circle cx="327.4" cy="318.5" r="1.4" fill="#133c7a"/>
<circle cx="331.4" cy="318.5" r="1.4" fill="#133c7a"/>
<circle cx="335.0" cy="318.5" r="1.4" fill="#133c7a"/>
<circle cx="321.1" cy="320.3" r="1.4" fill="#133c7a"/>
<circle cx="325.1" cy="321.2" r="1.4" fill="#133c7a"/>
<circle cx="330.0" cy="320.3" r="1.4" fill="#133c7a"/>
<circle cx="334.1" cy="320.3" r="1.4" fill="#133c7a"/>
<circle cx="323.4" cy="323.0" r="1.4" fill="#133c7a"/>
<circle cx="326.9" cy="323.0" r="1.4" fill="#133c7a"/>
<circle cx="334.5" cy="323.4" r="1.4" fill="#133c7a"/>
<circle cx="326.0" cy="327.4" r="1.4" fill="#133c7a"/>
<circle cx="329.2" cy="327.9" r="1.4" fill="#133c7a"/>
<circle cx="332.3" cy="327.4" r="1.4" fill="#133c7a"/>
<circle cx="324.3" cy="333.6" r="1.4" fill="#133c7a"/>
<circle cx="327.4" cy="333.6" r="1.4" fill="#133c7a"/>
<circle cx="330.0" cy="334.1" r="1.4" fill="#133c7a"/>
<circle cx="333.2" cy="333.6" r="1.4" fill="#133c7a"/>
<circle cx="328.7" cy="345.7" r="1.4" fill="#133c7a"/>
<circle cx="358.8" cy="299.2" r="1.4" fill="#ba1a2c"/>
<circle cx="358.8" cy="314.2" r="1.4" fill="#ba1a2c"/>
<circle cx="358.8" cy="320.0" r="1.4" fill="#ba1a2c"/>
<circle cx="355.8" cy="332.2" r="1.4" fill="#ba1a2c"/>
<circle cx="362.3" cy="333.2" r="1.4" fill="#ba1a2c"/>
<circle cx="358.8" cy="339.2" r="1.4" fill="#ba1a2c"/>
<circle cx="358.8" cy="349.5" r="1.4" fill="#ba1a2c"/>
<circle cx="358.8" cy="328.5" r="1.4" fill="#ba1a2c"/>
<line x1="318.8" y1="317" x2="338.8" y2="317" stroke="#133c7a" stroke-width="1.2"/>
<line x1="328.8" y1="303" x2="328.8" y2="331" stroke="#133c7a" stroke-width="1.1"/>
<line x1="323.8" y1="303" x2="333.8" y2="303" stroke="#133c7a" stroke-width="1.1"/>
<line x1="323.8" y1="331" x2="333.8" y2="331" stroke="#133c7a" stroke-width="1.1"/>
<line x1="348.8" y1="328.8" x2="368.8" y2="328.8" stroke="#ba1a2c" stroke-width="1.2"/>
<line x1="358.8" y1="312.3" x2="358.8" y2="346" stroke="#ba1a2c" stroke-width="1.1"/>
<line x1="353.8" y1="312.3" x2="363.8" y2="312.3" stroke="#ba1a2c" stroke-width="1.1"/>
<line x1="353.8" y1="346" x2="363.8" y2="346" stroke="#ba1a2c" stroke-width="1.1"/>
<g transform="translate(332.40000000000003,385.7) rotate(-45)"><text x="0" y="0" font-size="11.5" text-anchor="end" fill="#231f20" textLength="60" lengthAdjust="spacingAndGlyphs"><tspan font-style="italic">NPM1wt</tspan> AML</text></g>
<g transform="translate(362.40000000000003,385.5) rotate(-45)"><text x="0" y="0" font-size="11.5" text-anchor="end" fill="#231f20" textLength="53" lengthAdjust="spacingAndGlyphs"><tspan font-style="italic">NPM1c</tspan> AML</text></g>
<line x1="432.7" y1="267" x2="432.7" y2="371.2" stroke="#231f20" stroke-width="1.3"/>
<line x1="432.7" y1="371.2" x2="502" y2="371.2" stroke="#231f20" stroke-width="1.3"/>
<line x1="429.2" y1="283.8" x2="432.7" y2="283.8" stroke="#231f20" stroke-width="1"/>
<line x1="429.2" y1="318.8" x2="432.7" y2="318.8" stroke="#231f20" stroke-width="1"/>
<line x1="429.2" y1="353.9" x2="432.7" y2="353.9" stroke="#231f20" stroke-width="1"/>
<line x1="451.8" y1="371.2" x2="451.8" y2="374.7" stroke="#231f20" stroke-width="1"/>
<line x1="481.9" y1="371.2" x2="481.9" y2="374.7" stroke="#231f20" stroke-width="1"/>
<text x="424.7" y="287.3" font-size="10" text-anchor="end" font-weight="normal" font-style="normal" fill="#231f20" >1</text>
<text x="426.9" y="322.3" font-size="10" text-anchor="end" font-weight="normal" font-style="normal" fill="#231f20" >0</text>
<text x="424.7" y="357.4" font-size="10" text-anchor="end" font-weight="normal" font-style="normal" fill="#231f20" >−1</text>
<text x="466.45" y="260.0" font-size="11.5" text-anchor="middle" font-weight="normal" font-style="normal" fill="#231f20" textLength="43.1" lengthAdjust="spacingAndGlyphs" >RPL22L1</text>
<g transform="translate(408,319) rotate(-90)"><text x="0" y="0" font-size="11" text-anchor="middle" fill="#231f20" textLength="79.4" lengthAdjust="spacingAndGlyphs">Relative abundance</text></g>
<line x1="452.3" y1="277.6" x2="481.9" y2="277.6" stroke="#231f20" stroke-width="1.1"/>
<text x="467.1" y="277.90000000000003" font-size="10.5" text-anchor="middle" font-weight="normal" font-style="normal" fill="#231f20" textLength="4.1" lengthAdjust="spacingAndGlyphs" >*</text>
<circle cx="451.8" cy="293.2" r="1.4" fill="#133c7a"/>
<circle cx="448.9" cy="299.5" r="1.4" fill="#133c7a"/>
<circle cx="451.8" cy="300.0" r="1.4" fill="#133c7a"/>
<circle cx="455.2" cy="303.4" r="1.4" fill="#133c7a"/>
<circle cx="451.8" cy="306.7" r="1.4" fill="#133c7a"/>
<circle cx="446.5" cy="311.0" r="1.4" fill="#133c7a"/>
<circle cx="451.8" cy="310.0" r="1.4" fill="#133c7a"/>
<circle cx="455.2" cy="309.6" r="1.4" fill="#133c7a"/>
<circle cx="458.0" cy="310.6" r="1.4" fill="#133c7a"/>
<circle cx="460.5" cy="313.0" r="1.4" fill="#133c7a"/>
<circle cx="446.5" cy="315.0" r="1.4" fill="#133c7a"/>
<circle cx="451.8" cy="314.0" r="1.4" fill="#133c7a"/>
<circle cx="457.6" cy="316.4" r="1.4" fill="#133c7a"/>
<circle cx="443.1" cy="317.9" r="1.4" fill="#133c7a"/>
<circle cx="448.9" cy="318.8" r="1.4" fill="#133c7a"/>
<circle cx="451.8" cy="317.9" r="1.4" fill="#133c7a"/>
<circle cx="455.2" cy="317.9" r="1.4" fill="#133c7a"/>
<circle cx="460.5" cy="318.3" r="1.4" fill="#133c7a"/>
<circle cx="457.6" cy="319.3" r="1.4" fill="#133c7a"/>
<circle cx="446.5" cy="324.1" r="1.4" fill="#133c7a"/>
<circle cx="451.8" cy="324.1" r="1.4" fill="#133c7a"/>
<circle cx="457.6" cy="324.1" r="1.4" fill="#133c7a"/>
<circle cx="454.7" cy="321.7" r="1.4" fill="#133c7a"/>
<circle cx="446.5" cy="329.0" r="1.4" fill="#133c7a"/>
<circle cx="451.8" cy="328.5" r="1.4" fill="#133c7a"/>
<circle cx="454.7" cy="327.5" r="1.4" fill="#133c7a"/>
<circle cx="446.5" cy="334.3" r="1.4" fill="#133c7a"/>
<circle cx="451.8" cy="333.3" r="1.4" fill="#133c7a"/>
<circle cx="455.2" cy="332.8" r="1.4" fill="#133c7a"/>
<circle cx="458.0" cy="333.3" r="1.4" fill="#133c7a"/>
<circle cx="451.8" cy="338.1" r="1.4" fill="#133c7a"/>
<circle cx="449.9" cy="343.5" r="1.4" fill="#133c7a"/>
<circle cx="453.3" cy="342.5" r="1.4" fill="#133c7a"/>
<circle cx="478.8" cy="323.0" r="1.4" fill="#ba1a2c"/>
<circle cx="485.0" cy="323.0" r="1.4" fill="#ba1a2c"/>
<circle cx="481.9" cy="327.0" r="1.4" fill="#ba1a2c"/>
<circle cx="475.0" cy="331.5" r="1.4" fill="#ba1a2c"/>
<circle cx="489.0" cy="331.5" r="1.4" fill="#ba1a2c"/>
<circle cx="482.3" cy="335.7" r="1.4" fill="#ba1a2c"/>
<circle cx="481.9" cy="347.7" r="1.4" fill="#ba1a2c"/>
<circle cx="481.9" cy="331.0" r="1.4" fill="#ba1a2c"/>
<line x1="441.8" y1="318" x2="461.8" y2="318" stroke="#133c7a" stroke-width="1.2"/>
<line x1="451.8" y1="302.4" x2="451.8" y2="333.8" stroke="#133c7a" stroke-width="1.1"/>
<line x1="446.8" y1="302.4" x2="456.8" y2="302.4" stroke="#133c7a" stroke-width="1.1"/>
<line x1="446.8" y1="333.8" x2="456.8" y2="333.8" stroke="#133c7a" stroke-width="1.1"/>
<line x1="471.9" y1="331.6" x2="491.9" y2="331.6" stroke="#ba1a2c" stroke-width="1.2"/>
<line x1="481.9" y1="323.8" x2="481.9" y2="339.2" stroke="#ba1a2c" stroke-width="1.1"/>
<line x1="476.9" y1="323.8" x2="486.9" y2="323.8" stroke="#ba1a2c" stroke-width="1.1"/>
<line x1="476.9" y1="339.2" x2="486.9" y2="339.2" stroke="#ba1a2c" stroke-width="1.1"/>
<g transform="translate(455.40000000000003,385.7) rotate(-45)"><text x="0" y="0" font-size="11.5" text-anchor="end" fill="#231f20" textLength="60" lengthAdjust="spacingAndGlyphs"><tspan font-style="italic">NPM1wt</tspan> AML</text></g>
<g transform="translate(485.5,385.5) rotate(-45)"><text x="0" y="0" font-size="11.5" text-anchor="end" fill="#231f20" textLength="53" lengthAdjust="spacingAndGlyphs"><tspan font-style="italic">NPM1c</tspan> AML</text></g>
<line x1="48.6" y1="492.5" x2="48.6" y2="605.5" stroke="#231f20" stroke-width="1.3"/>
<line x1="48.6" y1="605.5" x2="121.25" y2="605.5" stroke="#231f20" stroke-width="1.3"/>
<line x1="45.1" y1="495.9" x2="48.6" y2="495.9" stroke="#231f20" stroke-width="1"/>
<line x1="45.1" y1="532.3" x2="48.6" y2="532.3" stroke="#231f20" stroke-width="1"/>
<line x1="45.1" y1="569.25" x2="48.6" y2="569.25" stroke="#231f20" stroke-width="1"/>
<line x1="45.1" y1="605.5" x2="48.6" y2="605.5" stroke="#231f20" stroke-width="1"/>
<line x1="69.2" y1="605.5" x2="69.2" y2="609.0" stroke="#231f20" stroke-width="1"/>
<line x1="100.3" y1="605.5" x2="100.3" y2="609.0" stroke="#231f20" stroke-width="1"/>
<text x="41.25" y="499.4" font-size="10" text-anchor="end" font-weight="normal" font-style="normal" fill="#231f20" >150</text>
<text x="41.25" y="535.8" font-size="10" text-anchor="end" font-weight="normal" font-style="normal" fill="#231f20" >100</text>
<text x="41.25" y="572.75" font-size="10" text-anchor="end" font-weight="normal" font-style="normal" fill="#231f20" >50</text>
<text x="41.25" y="609.0" font-size="10" text-anchor="end" font-weight="normal" font-style="normal" fill="#231f20" >0</text>
<text x="84.6" y="477.95" font-size="11.5" text-anchor="middle" font-weight="normal" font-style="normal" fill="#231f20" textLength="21.75" lengthAdjust="spacingAndGlyphs" >KRI1</text>
<g transform="translate(19.0,548) rotate(-90)"><text x="0" y="0" font-size="12" text-anchor="middle" fill="#231f20" textLength="66.25" lengthAdjust="spacingAndGlyphs">RNA abundance</text></g>
<line x1="69.3" y1="513.4" x2="100.5" y2="513.4" stroke="#231f20" stroke-width="1.1"/>
<text x="84.9" y="507.7" font-size="9" text-anchor="middle" font-weight="normal" font-style="normal" fill="#231f20" >ns</text>
<circle cx="69.2" cy="526.8" r="1.65" fill="#a3a0b4"/>
<circle cx="69.2" cy="532.5" r="1.65" fill="#a3a0b4"/>
<circle cx="63.0" cy="535.8" r="1.65" fill="#a3a0b4"/>
<circle cx="66.1" cy="535.8" r="1.65" fill="#a3a0b4"/>
<circle cx="69.2" cy="536.0" r="1.65" fill="#a3a0b4"/>
<circle cx="72.3" cy="536.0" r="1.65" fill="#a3a0b4"/>
<circle cx="69.2" cy="538.7" r="1.65" fill="#a3a0b4"/>
<circle cx="69.2" cy="541.3" r="1.65" fill="#a3a0b4"/>
<circle cx="67.1" cy="548.0" r="1.65" fill="#a3a0b4"/>
<circle cx="70.8" cy="548.0" r="1.65" fill="#a3a0b4"/>
<circle cx="63.0" cy="552.2" r="1.65" fill="#a3a0b4"/>
<circle cx="67.1" cy="553.8" r="1.65" fill="#a3a0b4"/>
<circle cx="78.0" cy="553.8" r="1.65" fill="#a3a0b4"/>
<circle cx="60.4" cy="555.8" r="1.65" fill="#a3a0b4"/>
<circle cx="63.5" cy="556.4" r="1.65" fill="#a3a0b4"/>
<circle cx="66.6" cy="556.9" r="1.65" fill="#a3a0b4"/>
<circle cx="71.8" cy="556.4" r="1.65" fill="#a3a0b4"/>
<circle cx="74.9" cy="555.8" r="1.65" fill="#a3a0b4"/>
<circle cx="78.6" cy="556.4" r="1.65" fill="#a3a0b4"/>
<circle cx="60.4" cy="559.0" r="1.65" fill="#a3a0b4"/>
<circle cx="65.6" cy="559.5" r="1.65" fill="#a3a0b4"/>
<circle cx="69.2" cy="559.5" r="1.65" fill="#a3a0b4"/>
<circle cx="72.3" cy="559.0" r="1.65" fill="#a3a0b4"/>
<circle cx="75.5" cy="559.0" r="1.65" fill="#a3a0b4"/>
<circle cx="78.6" cy="559.0" r="1.65" fill="#a3a0b4"/>
<circle cx="66.1" cy="562.6" r="1.65" fill="#a3a0b4"/>
<circle cx="69.2" cy="562.6" r="1.65" fill="#a3a0b4"/>
<circle cx="72.3" cy="562.1" r="1.65" fill="#a3a0b4"/>
<circle cx="75.5" cy="561.6" r="1.65" fill="#a3a0b4"/>
<circle cx="66.1" cy="565.7" r="1.65" fill="#a3a0b4"/>
<circle cx="69.2" cy="565.7" r="1.65" fill="#a3a0b4"/>
<circle cx="72.3" cy="565.2" r="1.65" fill="#a3a0b4"/>
<circle cx="75.5" cy="565.2" r="1.65" fill="#a3a0b4"/>
<circle cx="66.1" cy="568.3" r="1.65" fill="#a3a0b4"/>
<circle cx="69.2" cy="567.8" r="1.65" fill="#a3a0b4"/>
<circle cx="65.6" cy="572.0" r="1.65" fill="#a3a0b4"/>
<circle cx="69.2" cy="572.5" r="1.65" fill="#a3a0b4"/>
<circle cx="72.3" cy="573.0" r="1.65" fill="#a3a0b4"/>
<circle cx="75.5" cy="573.5" r="1.65" fill="#a3a0b4"/>
<circle cx="66.1" cy="576.6" r="1.65" fill="#a3a0b4"/>
<circle cx="69.2" cy="576.1" r="1.65" fill="#a3a0b4"/>
<circle cx="72.3" cy="579.2" r="1.65" fill="#a3a0b4"/>
<circle cx="69.2" cy="581.8" r="1.65" fill="#a3a0b4"/>
<circle cx="69.2" cy="585.0" r="1.65" fill="#a3a0b4"/>
<circle cx="100.3" cy="546.1" r="1.4" fill="#24893a"/>
<circle cx="100.3" cy="555.2" r="1.4" fill="#24893a"/>
<circle cx="106.9" cy="558.9" r="1.4" fill="#24893a"/>
<circle cx="100.3" cy="560.6" r="1.4" fill="#24893a"/>
<circle cx="93.8" cy="563.0" r="1.4" fill="#24893a"/>
<circle cx="106.9" cy="563.0" r="1.4" fill="#24893a"/>
<circle cx="97.1" cy="568.3" r="1.4" fill="#24893a"/>
<circle cx="103.5" cy="567.6" r="1.4" fill="#24893a"/>
<line x1="59.2" y1="558.4" x2="79.2" y2="558.4" stroke="#a3a0b4" stroke-width="1.2"/>
<line x1="69.2" y1="543.4" x2="69.2" y2="573.5" stroke="#a3a0b4" stroke-width="1.1"/>
<line x1="64.2" y1="543.4" x2="74.2" y2="543.4" stroke="#a3a0b4" stroke-width="1.1"/>
<line x1="64.2" y1="573.5" x2="74.2" y2="573.5" stroke="#a3a0b4" stroke-width="1.1"/>
<line x1="90.3" y1="560.4" x2="110.3" y2="560.4" stroke="#24893a" stroke-width="1.2"/>
<line x1="100.3" y1="553.2" x2="100.3" y2="566.5" stroke="#24893a" stroke-width="1.1"/>
<line x1="95.3" y1="553.2" x2="105.3" y2="553.2" stroke="#24893a" stroke-width="1.1"/>
<line x1="95.3" y1="566.5" x2="105.3" y2="566.5" stroke="#24893a" stroke-width="1.1"/>
<g transform="translate(72.8,620.0) rotate(-45)"><text x="0" y="0" font-size="11.5" text-anchor="end" fill="#231f20" textLength="60" lengthAdjust="spacingAndGlyphs"><tspan font-style="italic">NPM1wt</tspan> AML</text></g>
<g transform="translate(103.89999999999999,619.8) rotate(-45)"><text x="0" y="0" font-size="11.5" text-anchor="end" fill="#231f20" textLength="53" lengthAdjust="spacingAndGlyphs"><tspan font-style="italic">NPM1c</tspan> AML</text></g>
<line x1="182.5" y1="498.75" x2="182.5" y2="605.5" stroke="#231f20" stroke-width="1.3"/>
<line x1="182.5" y1="605.5" x2="255" y2="605.5" stroke="#231f20" stroke-width="1.3"/>
<line x1="179.0" y1="501.25" x2="182.5" y2="501.25" stroke="#231f20" stroke-width="1"/>
<line x1="179.0" y1="535.75" x2="182.5" y2="535.75" stroke="#231f20" stroke-width="1"/>
<line x1="179.0" y1="570.5" x2="182.5" y2="570.5" stroke="#231f20" stroke-width="1"/>
<line x1="179.0" y1="605.2" x2="182.5" y2="605.2" stroke="#231f20" stroke-width="1"/>
<line x1="203.25" y1="605.5" x2="203.25" y2="609.0" stroke="#231f20" stroke-width="1"/>
<line x1="234.7" y1="605.5" x2="234.7" y2="609.0" stroke="#231f20" stroke-width="1"/>
<text x="175.6" y="504.75" font-size="10" text-anchor="end" font-weight="normal" font-style="normal" fill="#231f20" >30</text>
<text x="175.6" y="539.25" font-size="10" text-anchor="end" font-weight="normal" font-style="normal" fill="#231f20" >20</text>
<text x="175.6" y="574.0" font-size="10" text-anchor="end" font-weight="normal" font-style="normal" fill="#231f20" >10</text>
<text x="175.6" y="608.7" font-size="10" text-anchor="end" font-weight="normal" font-style="normal" fill="#231f20" >0</text>
<text x="218.1" y="477.95" font-size="11.5" text-anchor="middle" font-weight="normal" font-style="normal" fill="#231f20" textLength="32.75" lengthAdjust="spacingAndGlyphs" >RIOX1</text>
<g transform="translate(158.75,551.25) rotate(-90)"><text x="0" y="0" font-size="12" text-anchor="middle" fill="#231f20" textLength="65" lengthAdjust="spacingAndGlyphs">RNA abundance</text></g>
<line x1="203.25" y1="502.5" x2="234.5" y2="502.5" stroke="#231f20" stroke-width="1.1"/>
<text x="218.875" y="497" font-size="9" text-anchor="middle" font-weight="normal" font-style="normal" fill="#231f20" >ns</text>
<circle cx="203.2" cy="515.4" r="1.65" fill="#a3a0b4"/>
<circle cx="203.2" cy="519.5" r="1.65" fill="#a3a0b4"/>
<circle cx="203.2" cy="541.0" r="1.65" fill="#a3a0b4"/>
<circle cx="203.2" cy="544.5" r="1.65" fill="#a3a0b4"/>
<circle cx="201.5" cy="548.1" r="1.65" fill="#a3a0b4"/>
<circle cx="205.0" cy="548.7" r="1.65" fill="#a3a0b4"/>
<circle cx="198.5" cy="552.3" r="1.65" fill="#a3a0b4"/>
<circle cx="202.0" cy="552.9" r="1.65" fill="#a3a0b4"/>
<circle cx="206.2" cy="552.9" r="1.65" fill="#a3a0b4"/>
<circle cx="208.0" cy="554.6" r="1.65" fill="#a3a0b4"/>
<circle cx="199.7" cy="560.0" r="1.65" fill="#a3a0b4"/>
<circle cx="203.8" cy="560.0" r="1.65" fill="#a3a0b4"/>
<circle cx="197.3" cy="564.2" r="1.65" fill="#a3a0b4"/>
<circle cx="202.0" cy="563.6" r="1.65" fill="#a3a0b4"/>
<circle cx="206.2" cy="563.6" r="1.65" fill="#a3a0b4"/>
<circle cx="194.3" cy="567.1" r="1.65" fill="#a3a0b4"/>
<circle cx="197.9" cy="568.3" r="1.65" fill="#a3a0b4"/>
<circle cx="202.0" cy="567.7" r="1.65" fill="#a3a0b4"/>
<circle cx="206.2" cy="568.3" r="1.65" fill="#a3a0b4"/>
<circle cx="211.6" cy="567.7" r="1.65" fill="#a3a0b4"/>
<circle cx="198.5" cy="570.7" r="1.65" fill="#a3a0b4"/>
<circle cx="202.6" cy="570.1" r="1.65" fill="#a3a0b4"/>
<circle cx="206.8" cy="570.7" r="1.65" fill="#a3a0b4"/>
<circle cx="200.3" cy="574.3" r="1.65" fill="#a3a0b4"/>
<circle cx="204.4" cy="574.3" r="1.65" fill="#a3a0b4"/>
<circle cx="206.8" cy="573.1" r="1.65" fill="#a3a0b4"/>
<circle cx="200.3" cy="579.6" r="1.65" fill="#a3a0b4"/>
<circle cx="204.4" cy="579.6" r="1.65" fill="#a3a0b4"/>
<circle cx="205.0" cy="577.0" r="1.65" fill="#a3a0b4"/>
<circle cx="198.0" cy="557.0" r="1.65" fill="#a3a0b4"/>
<circle cx="207.0" cy="557.0" r="1.65" fill="#a3a0b4"/>
<circle cx="234.7" cy="538.9" r="1.4" fill="#24893a"/>
<circle cx="234.7" cy="546.0" r="1.4" fill="#24893a"/>
<circle cx="234.7" cy="558.5" r="1.4" fill="#24893a"/>
<circle cx="230.7" cy="564.3" r="1.4" fill="#24893a"/>
<circle cx="237.4" cy="567.0" r="1.4" fill="#24893a"/>
<circle cx="234.7" cy="572.3" r="1.4" fill="#24893a"/>
<circle cx="234.7" cy="576.3" r="1.4" fill="#24893a"/>
<circle cx="234.7" cy="582.6" r="1.4" fill="#24893a"/>
<line x1="193.25" y1="560" x2="213.25" y2="560" stroke="#a3a0b4" stroke-width="1.2"/>
<line x1="203.25" y1="545.1" x2="203.25" y2="575" stroke="#a3a0b4" stroke-width="1.1"/>
<line x1="198.25" y1="545.1" x2="208.25" y2="545.1" stroke="#a3a0b4" stroke-width="1.1"/>
<line x1="198.25" y1="575" x2="208.25" y2="575" stroke="#a3a0b4" stroke-width="1.1"/>
<line x1="224.7" y1="563.4" x2="244.7" y2="563.4" stroke="#24893a" stroke-width="1.2"/>
<line x1="234.7" y1="548.5" x2="234.7" y2="578.6" stroke="#24893a" stroke-width="1.1"/>
<line x1="229.7" y1="548.5" x2="239.7" y2="548.5" stroke="#24893a" stroke-width="1.1"/>
<line x1="229.7" y1="578.6" x2="239.7" y2="578.6" stroke="#24893a" stroke-width="1.1"/>
<g transform="translate(206.85,620.0) rotate(-45)"><text x="0" y="0" font-size="11.5" text-anchor="end" fill="#231f20" textLength="60" lengthAdjust="spacingAndGlyphs"><tspan font-style="italic">NPM1wt</tspan> AML</text></g>
<g transform="translate(238.29999999999998,619.8) rotate(-45)"><text x="0" y="0" font-size="11.5" text-anchor="end" fill="#231f20" textLength="53" lengthAdjust="spacingAndGlyphs"><tspan font-style="italic">NPM1c</tspan> AML</text></g>
<line x1="316.25" y1="502" x2="316.25" y2="605.5" stroke="#231f20" stroke-width="1.3"/>
<line x1="316.25" y1="605.5" x2="383" y2="605.5" stroke="#231f20" stroke-width="1.3"/>
<line x1="312.75" y1="505" x2="316.25" y2="505" stroke="#231f20" stroke-width="1"/>
<line x1="312.75" y1="538.75" x2="316.25" y2="538.75" stroke="#231f20" stroke-width="1"/>
<line x1="312.75" y1="572" x2="316.25" y2="572" stroke="#231f20" stroke-width="1"/>
<line x1="312.75" y1="605.5" x2="316.25" y2="605.5" stroke="#231f20" stroke-width="1"/>
<line x1="335.4" y1="605.5" x2="335.4" y2="609.0" stroke="#231f20" stroke-width="1"/>
<line x1="364.5" y1="605.5" x2="364.5" y2="609.0" stroke="#231f20" stroke-width="1"/>
<text x="309.5" y="508.5" font-size="10" text-anchor="end" font-weight="normal" font-style="normal" fill="#231f20" >30</text>
<text x="309.5" y="542.25" font-size="10" text-anchor="end" font-weight="normal" font-style="normal" fill="#231f20" >20</text>
<text x="309.5" y="575.5" font-size="10" text-anchor="end" font-weight="normal" font-style="normal" fill="#231f20" >10</text>
<text x="309.5" y="609.0" font-size="10" text-anchor="end" font-weight="normal" font-style="normal" fill="#231f20" >0</text>
<text x="349.4" y="477.95" font-size="11.5" text-anchor="middle" font-weight="normal" font-style="normal" fill="#231f20" textLength="26.25" lengthAdjust="spacingAndGlyphs" >RRS1</text>
<g transform="translate(292.5,553.4) rotate(-90)"><text x="0" y="0" font-size="12" text-anchor="middle" fill="#231f20" textLength="65.75" lengthAdjust="spacingAndGlyphs">RNA abundance</text></g>
<line x1="335.75" y1="499.5" x2="363.75" y2="499.5" stroke="#231f20" stroke-width="1.1"/>
<text x="349.75" y="493" font-size="9" text-anchor="middle" font-weight="normal" font-style="normal" fill="#231f20" >ns</text>
<circle cx="334.0" cy="511.7" r="1.65" fill="#a3a0b4"/>
<circle cx="337.4" cy="511.0" r="1.65" fill="#a3a0b4"/>
<circle cx="335.4" cy="522.4" r="1.65" fill="#a3a0b4"/>
<circle cx="335.4" cy="536.8" r="1.65" fill="#a3a0b4"/>
<circle cx="335.4" cy="541.1" r="1.65" fill="#a3a0b4"/>
<circle cx="335.4" cy="547.8" r="1.65" fill="#a3a0b4"/>
<circle cx="332.1" cy="552.8" r="1.65" fill="#a3a0b4"/>
<circle cx="335.4" cy="554.2" r="1.65" fill="#a3a0b4"/>
<circle cx="331.4" cy="555.8" r="1.65" fill="#a3a0b4"/>
<circle cx="336.1" cy="556.5" r="1.65" fill="#a3a0b4"/>
<circle cx="339.4" cy="555.2" r="1.65" fill="#a3a0b4"/>
<circle cx="327.4" cy="559.2" r="1.65" fill="#a3a0b4"/>
<circle cx="331.4" cy="559.8" r="1.65" fill="#a3a0b4"/>
<circle cx="335.4" cy="559.2" r="1.65" fill="#a3a0b4"/>
<circle cx="340.1" cy="559.8" r="1.65" fill="#a3a0b4"/>
<circle cx="344.1" cy="559.8" r="1.65" fill="#a3a0b4"/>
<circle cx="329.4" cy="562.5" r="1.65" fill="#a3a0b4"/>
<circle cx="333.4" cy="561.9" r="1.65" fill="#a3a0b4"/>
<circle cx="337.4" cy="562.5" r="1.65" fill="#a3a0b4"/>
<circle cx="343.4" cy="563.9" r="1.65" fill="#a3a0b4"/>
<circle cx="327.4" cy="566.5" r="1.65" fill="#a3a0b4"/>
<circle cx="331.4" cy="566.5" r="1.65" fill="#a3a0b4"/>
<circle cx="335.4" cy="565.9" r="1.65" fill="#a3a0b4"/>
<circle cx="339.4" cy="567.2" r="1.65" fill="#a3a0b4"/>
<circle cx="344.1" cy="567.2" r="1.65" fill="#a3a0b4"/>
<circle cx="331.4" cy="569.2" r="1.65" fill="#a3a0b4"/>
<circle cx="334.7" cy="570.6" r="1.65" fill="#a3a0b4"/>
<circle cx="339.4" cy="568.5" r="1.65" fill="#a3a0b4"/>
<circle cx="334.0" cy="572.6" r="1.65" fill="#a3a0b4"/>
<circle cx="333.4" cy="578.0" r="1.65" fill="#a3a0b4"/>
<circle cx="338.1" cy="577.3" r="1.65" fill="#a3a0b4"/>
<circle cx="339.4" cy="580.0" r="1.65" fill="#a3a0b4"/>
<circle cx="335.4" cy="587.3" r="1.65" fill="#a3a0b4"/>
<circle cx="364.5" cy="550.5" r="1.4" fill="#24893a"/>
<circle cx="358.2" cy="563.8" r="1.4" fill="#24893a"/>
<circle cx="370.0" cy="561.2" r="1.4" fill="#24893a"/>
<circle cx="364.5" cy="566.0" r="1.4" fill="#24893a"/>
<circle cx="364.5" cy="572.5" r="1.4" fill="#24893a"/>
<circle cx="360.8" cy="580.0" r="1.4" fill="#24893a"/>
<circle cx="367.5" cy="580.0" r="1.4" fill="#24893a"/>
<line x1="325.4" y1="560.5" x2="345.4" y2="560.5" stroke="#a3a0b4" stroke-width="1.2"/>
<line x1="335.4" y1="542.5" x2="335.4" y2="577.2" stroke="#a3a0b4" stroke-width="1.1"/>
<line x1="330.4" y1="542.5" x2="340.4" y2="542.5" stroke="#a3a0b4" stroke-width="1.1"/>
<line x1="330.4" y1="577.2" x2="340.4" y2="577.2" stroke="#a3a0b4" stroke-width="1.1"/>
<line x1="354.5" y1="567" x2="374.5" y2="567" stroke="#24893a" stroke-width="1.2"/>
<line x1="364.5" y1="556.75" x2="364.5" y2="577.5" stroke="#24893a" stroke-width="1.1"/>
<line x1="359.5" y1="556.75" x2="369.5" y2="556.75" stroke="#24893a" stroke-width="1.1"/>
<line x1="359.5" y1="577.5" x2="369.5" y2="577.5" stroke="#24893a" stroke-width="1.1"/>
<g transform="translate(339.0,620.0) rotate(-45)"><text x="0" y="0" font-size="11.5" text-anchor="end" fill="#231f20" textLength="60" lengthAdjust="spacingAndGlyphs"><tspan font-style="italic">NPM1wt</tspan> AML</text></g>
<g transform="translate(368.1,619.8) rotate(-45)"><text x="0" y="0" font-size="11.5" text-anchor="end" fill="#231f20" textLength="53" lengthAdjust="spacingAndGlyphs"><tspan font-style="italic">NPM1c</tspan> AML</text></g>
<line x1="443.75" y1="501.25" x2="443.75" y2="605.5" stroke="#231f20" stroke-width="1.3"/>
<line x1="443.75" y1="605.5" x2="511.75" y2="605.5" stroke="#231f20" stroke-width="1.3"/>
<line x1="440.25" y1="504.25" x2="443.75" y2="504.25" stroke="#231f20" stroke-width="1"/>
<line x1="440.25" y1="538" x2="443.75" y2="538" stroke="#231f20" stroke-width="1"/>
<line x1="440.25" y1="571.75" x2="443.75" y2="571.75" stroke="#231f20" stroke-width="1"/>
<line x1="440.25" y1="605.5" x2="443.75" y2="605.5" stroke="#231f20" stroke-width="1"/>
<line x1="463.5" y1="605.5" x2="463.5" y2="609.0" stroke="#231f20" stroke-width="1"/>
<line x1="492.5" y1="605.5" x2="492.5" y2="609.0" stroke="#231f20" stroke-width="1"/>
<text x="437.5" y="507.75" font-size="10" text-anchor="end" font-weight="normal" font-style="normal" fill="#231f20" >60</text>
<text x="437.5" y="541.5" font-size="10" text-anchor="end" font-weight="normal" font-style="normal" fill="#231f20" >40</text>
<text x="437.5" y="575.25" font-size="10" text-anchor="end" font-weight="normal" font-style="normal" fill="#231f20" >20</text>
<text x="437.5" y="609.0" font-size="10" text-anchor="end" font-weight="normal" font-style="normal" fill="#231f20" >0</text>
<text x="477.9" y="477.95" font-size="11.5" text-anchor="middle" font-weight="normal" font-style="normal" fill="#231f20" textLength="43.25" lengthAdjust="spacingAndGlyphs" >RPL22L1</text>
<g transform="translate(420.5,552.75) rotate(-90)"><text x="0" y="0" font-size="12" text-anchor="middle" fill="#231f20" textLength="64.5" lengthAdjust="spacingAndGlyphs">RNA abundance</text></g>
<line x1="464.25" y1="499.5" x2="492.5" y2="499.5" stroke="#231f20" stroke-width="1.1"/>
<text x="478.375" y="493" font-size="9" text-anchor="middle" font-weight="normal" font-style="normal" fill="#231f20" >ns</text>
<circle cx="463.5" cy="511.7" r="1.65" fill="#a3a0b4"/>
<circle cx="463.5" cy="521.0" r="1.65" fill="#a3a0b4"/>
<circle cx="455.7" cy="539.7" r="1.65" fill="#a3a0b4"/>
<circle cx="458.5" cy="540.8" r="1.65" fill="#a3a0b4"/>
<circle cx="461.4" cy="541.8" r="1.65" fill="#a3a0b4"/>
<circle cx="464.9" cy="540.4" r="1.65" fill="#a3a0b4"/>
<circle cx="468.4" cy="540.8" r="1.65" fill="#a3a0b4"/>
<circle cx="472.0" cy="540.0" r="1.65" fill="#a3a0b4"/>
<circle cx="463.5" cy="547.5" r="1.65" fill="#a3a0b4"/>
<circle cx="461.4" cy="552.1" r="1.65" fill="#a3a0b4"/>
<circle cx="465.6" cy="552.1" r="1.65" fill="#a3a0b4"/>
<circle cx="465.6" cy="558.8" r="1.65" fill="#a3a0b4"/>
<circle cx="468.4" cy="558.8" r="1.65" fill="#a3a0b4"/>
<circle cx="458.5" cy="560.6" r="1.65" fill="#a3a0b4"/>
<circle cx="462.1" cy="560.2" r="1.65" fill="#a3a0b4"/>
<circle cx="464.2" cy="563.0" r="1.65" fill="#a3a0b4"/>
<circle cx="468.4" cy="565.8" r="1.65" fill="#a3a0b4"/>
<circle cx="458.5" cy="568.0" r="1.65" fill="#a3a0b4"/>
<circle cx="462.1" cy="568.0" r="1.65" fill="#a3a0b4"/>
<circle cx="468.4" cy="570.1" r="1.65" fill="#a3a0b4"/>
<circle cx="458.5" cy="571.0" r="1.65" fill="#a3a0b4"/>
<circle cx="458.5" cy="575.3" r="1.65" fill="#a3a0b4"/>
<circle cx="462.1" cy="575.3" r="1.65" fill="#a3a0b4"/>
<circle cx="464.9" cy="573.6" r="1.65" fill="#a3a0b4"/>
<circle cx="468.4" cy="577.6" r="1.65" fill="#a3a0b4"/>
<circle cx="455.7" cy="579.3" r="1.65" fill="#a3a0b4"/>
<circle cx="459.2" cy="579.3" r="1.65" fill="#a3a0b4"/>
<circle cx="462.8" cy="579.3" r="1.65" fill="#a3a0b4"/>
<circle cx="465.6" cy="580.0" r="1.65" fill="#a3a0b4"/>
<circle cx="468.4" cy="580.7" r="1.65" fill="#a3a0b4"/>
<circle cx="461.4" cy="583.5" r="1.65" fill="#a3a0b4"/>
<circle cx="465.6" cy="583.5" r="1.65" fill="#a3a0b4"/>
<circle cx="468.4" cy="582.8" r="1.65" fill="#a3a0b4"/>
<circle cx="463.5" cy="589.9" r="1.65" fill="#a3a0b4"/>
<circle cx="461.4" cy="597.9" r="1.65" fill="#a3a0b4"/>
<circle cx="465.6" cy="597.6" r="1.65" fill="#a3a0b4"/>
<circle cx="489.1" cy="557.5" r="1.4" fill="#24893a"/>
<circle cx="495.5" cy="556.8" r="1.4" fill="#24893a"/>
<circle cx="486.1" cy="567.2" r="1.4" fill="#24893a"/>
<circle cx="492.2" cy="567.9" r="1.4" fill="#24893a"/>
<circle cx="498.6" cy="570.6" r="1.4" fill="#24893a"/>
<circle cx="492.5" cy="571.6" r="1.4" fill="#24893a"/>
<circle cx="489.1" cy="576.6" r="1.4" fill="#24893a"/>
<circle cx="495.5" cy="577.3" r="1.4" fill="#24893a"/>
<circle cx="489.1" cy="580.0" r="1.4" fill="#24893a"/>
<line x1="453.5" y1="564" x2="473.5" y2="564" stroke="#a3a0b4" stroke-width="1.2"/>
<line x1="463.5" y1="543.9" x2="463.5" y2="584.2" stroke="#a3a0b4" stroke-width="1.1"/>
<line x1="458.5" y1="543.9" x2="468.5" y2="543.9" stroke="#a3a0b4" stroke-width="1.1"/>
<line x1="458.5" y1="584.2" x2="468.5" y2="584.2" stroke="#a3a0b4" stroke-width="1.1"/>
<line x1="482.5" y1="568.6" x2="502.5" y2="568.6" stroke="#24893a" stroke-width="1.2"/>
<line x1="492.5" y1="560.5" x2="492.5" y2="576.3" stroke="#24893a" stroke-width="1.1"/>
<line x1="487.5" y1="560.5" x2="497.5" y2="560.5" stroke="#24893a" stroke-width="1.1"/>
<line x1="487.5" y1="576.3" x2="497.5" y2="576.3" stroke="#24893a" stroke-width="1.1"/>
<g transform="translate(467.1,620.0) rotate(-45)"><text x="0" y="0" font-size="11.5" text-anchor="end" fill="#231f20" textLength="60" lengthAdjust="spacingAndGlyphs"><tspan font-style="italic">NPM1wt</tspan> AML</text></g>
<g transform="translate(496.1,619.8) rotate(-45)"><text x="0" y="0" font-size="11.5" text-anchor="end" fill="#231f20" textLength="53" lengthAdjust="spacingAndGlyphs"><tspan font-style="italic">NPM1c</tspan> AML</text></g>
</svg></body></html>
